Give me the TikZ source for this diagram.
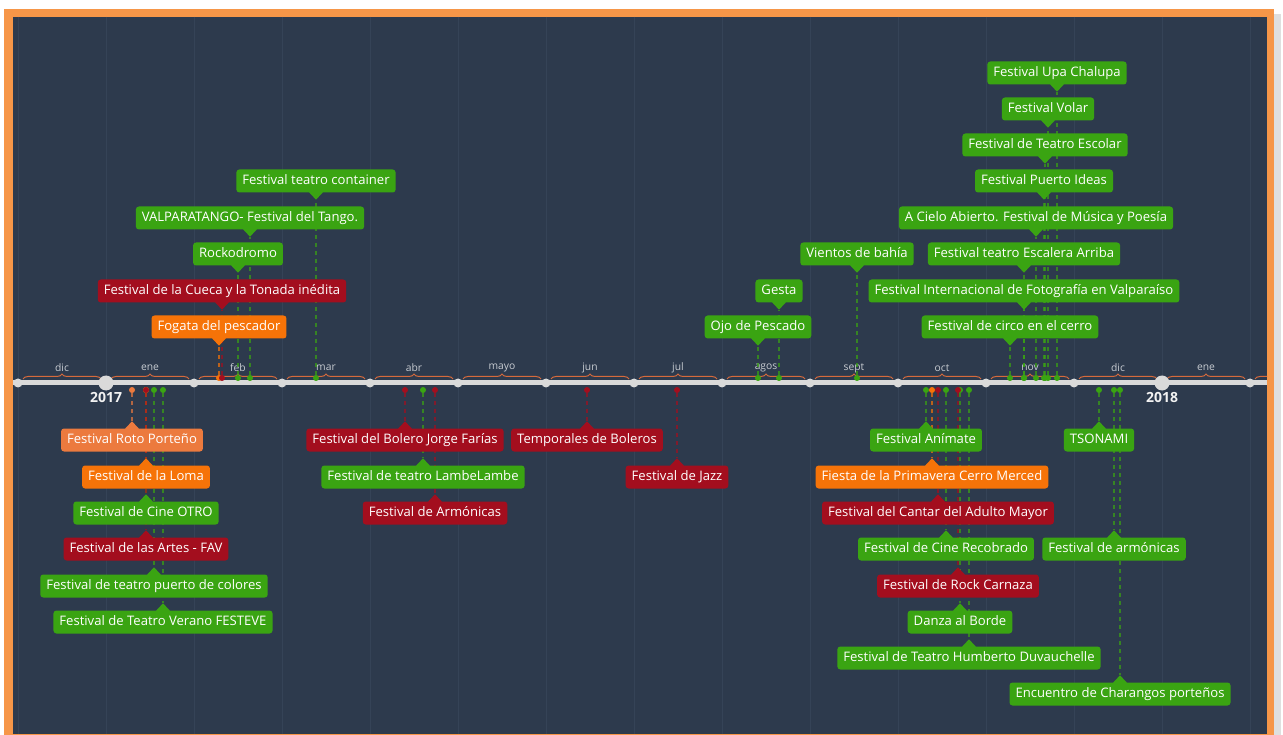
\documentclass[tikz,border=0pt]{standalone}
\usepackage{fontspec}
\setmainfont{Open Sans}
\usetikzlibrary{decorations.pathreplacing}
\definecolor{bgdark}{RGB}{45,58,77}
\definecolor{gridc}{RGB}{53,67,87}
\definecolor{frameo}{RGB}{246,150,72}
\definecolor{cg}{RGB}{58,164,18}
\definecolor{cr}{RGB}{163,14,30}
\definecolor{co}{RGB}{246,115,8}
\definecolor{cl}{RGB}{236,122,62}
\definecolor{axisc}{RGB}{218,218,218}
\definecolor{bracec}{RGB}{214,106,60}
\definecolor{monthc}{RGB}{200,204,210}
\pgfdeclarelayer{bglayer}
\pgfdeclarelayer{lines}
\pgfsetlayers{bglayer,lines,main}
\tikzset{
  evbox/.style={rectangle, rounded corners=3pt, text=white, font=\fontsize{13.1}{15}\selectfont,
    inner xsep=6pt, inner ysep=0pt, text height=10pt, text depth=3pt, minimum height=23pt},
  evdot/.style={circle, inner sep=0pt, minimum size=6pt},
  evline/.style={line width=1.3pt, dash pattern=on 4pt off 4pt, opacity=0.7},
  monthlab/.style={text=monthc, font=\fontsize{10.3}{11}\selectfont, inner sep=0pt},
  yearlab/.style={text=white!90!gray, font=\bfseries\fontsize{14}{15}\selectfont, inner sep=0pt},
  monthbrace/.style={draw=bracec, line width=1pt, decorate, decoration={brace, amplitude=5pt}},
  axdot/.style={circle, fill=axisc, inner sep=0pt, minimum size=9pt},
  yrdot/.style={circle, fill=axisc, inner sep=0pt, minimum size=15pt}
}
\newcommand\evA[5]{%
  \node[evbox,fill=#4] (#1) at (#2,#3) {#5};
  \coordinate (#1-tip) at ([yshift=-7pt]#1.south);
  \fill[#4] ([xshift=-7pt,yshift=0.5pt]#1.south) -- (#1-tip) -- ([xshift=7pt,yshift=0.5pt]#1.south) -- cycle;
  \node[evdot,fill=#4] (#1-dot) at (#2,378) {};
  \begin{pgfonlayer}{lines}\draw[evline,#4] (#1-dot) -- (#1-tip);\end{pgfonlayer}%
}
\newcommand\evB[5]{%
  \node[evbox,fill=#4] (#1) at (#2,#3) {#5};
  \coordinate (#1-tip) at ([yshift=7pt]#1.north);
  \fill[#4] ([xshift=-7pt,yshift=-0.5pt]#1.north) -- (#1-tip) -- ([xshift=7pt,yshift=-0.5pt]#1.north) -- cycle;
  \node[evdot,fill=#4] (#1-dot) at (#2,390) {};
  \begin{pgfonlayer}{lines}\draw[evline,#4] (#1-dot) -- (#1-tip);\end{pgfonlayer}%
}
\begin{document}
\begin{tikzpicture}[x=1pt,y=-1pt]
\useasboundingbox (0,0) rectangle (1283,735);
\begin{pgfonlayer}{bglayer}
  \fill[white] (0,0) rectangle (1283,735);
  \fill[gray!25] (1274,14) rectangle (1281,735);
  \fill[frameo] (4,9) rectangle (1274,740);
  \fill[bgdark] (13,17) rectangle (1267,734);
  \foreach \i in {0,...,14} {
    \draw[gridc, line width=1pt] (18+88*\i,17) -- (18+88*\i,734);
  }
  \begin{scope}
    \clip (13,17) rectangle (1267,734);
    \draw[axisc, line width=5pt] (13,383) -- (1267,383);
    \foreach \m [count=\i from 0] in {dic,ene,feb,mar,abr,mayo,jun,jul,agos,sept,oct,nov,dic,ene} {
      \draw[monthbrace] (23+88*\i,379) -- (101+88*\i,379);
      \node[monthlab] (m\i) at (62+88*\i,368) {\m};
    }
    \draw[monthbrace] (1255,379) -- (1333,379);
    \foreach \i in {0,2,3,4,5,6,7,8,9,10,11,12,14} {
      \node[axdot] (ax\i) at (18+88*\i,383) {};
    }
    \node[yrdot] (y2017) at (106,383) {};
    \node[yrdot] (y2018) at (1162,383) {};
  \end{scope}
  \node[yearlab] (t2017) at (106,397) {2017};
  \node[yearlab] (t2018) at (1162,397) {2018};
\end{pgfonlayer}
% above the axis
\evA{fogata}{219}{327}{co}{Fogata del pescador}
\evA{cueca}{222}{291}{cr}{Festival de la Cueca y la Tonada inédita}
\evA{rocko}{238}{254}{cg}{Rockodromo}
\evA{tango}{250}{218}{cg}{VALPARATANGO- Festival del Tango.}
\evA{container}{316}{181}{cg}{Festival teatro container}
\evA{ojo}{758}{327}{cg}{Ojo de Pescado}
\evA{gesta}{779}{291}{cg}{Gesta}
\evA{vientos}{857}{254}{cg}{Vientos de bahía}
\evA{circo}{1010}{327}{cg}{Festival de circo en el cerro}
\evA{foto}{1024}{291}{cg}{Festival Internacional de Fotografía en Valparaíso}
\evA{escalera}{1024}{254}{cg}{Festival teatro Escalera Arriba}
\evA{cielo}{1036}{218}{cg}{A Cielo Abierto. Festival de Música y Poesía}
\evA{ideas}{1044}{181}{cg}{Festival Puerto Ideas}
\evA{escolar}{1045}{145}{cg}{Festival de Teatro Escolar}
\evA{volar}{1048}{109}{cg}{Festival Volar}
\evA{upa}{1057}{73}{cg}{Festival Upa Chalupa}
% below the axis
\evB{roto}{132}{440}{cl}{Festival Roto Porteño}
\evB{otro}{146}{513}{cg}{Festival de Cine OTRO}
\evB{loma}{146}{477}{co}{Festival de la Loma}
\evB{fav}{146}{549}{cr}{Festival de las Artes - FAV}
\evB{colores}{154}{586}{cg}{Festival de teatro puerto de colores}
\evB{festeve}{163}{622}{cg}{Festival de Teatro Verano FESTEVE}
\evB{bolero}{405}{440}{cr}{Festival del Bolero Jorge Farías}
\evB{lambe}{423}{477}{cg}{Festival de teatro LambeLambe}
\evB{armonicas}{435}{513}{cr}{Festival de Armónicas}
\evB{temporales}{587}{440}{cr}{Temporales de Boleros}
\evB{jazz}{677}{477}{cr}{Festival de Jazz}
\evB{animate}{926}{440}{cg}{Festival Anímate}
\evB{primavera}{932}{477}{co}{Fiesta de la Primavera Cerro Merced}
\evB{cantar}{938}{513}{cr}{Festival del Cantar del Adulto Mayor}
\evB{recobrado}{946}{549}{cg}{Festival de Cine Recobrado}
\evB{danza}{960}{622}{cg}{Danza al Borde}
\evB{carnaza}{958}{586}{cr}{Festival de Rock Carnaza}
\evB{humberto}{969}{658}{cg}{Festival de Teatro Humberto Duvauchelle}
\evB{tsonami}{1099}{440}{cg}{TSONAMI}
\evB{armonicas2}{1114}{549}{cg}{Festival de armónicas}
\evB{charangos}{1120}{694}{cg}{Encuentro de Charangos porteños}
\end{tikzpicture}
\end{document}
